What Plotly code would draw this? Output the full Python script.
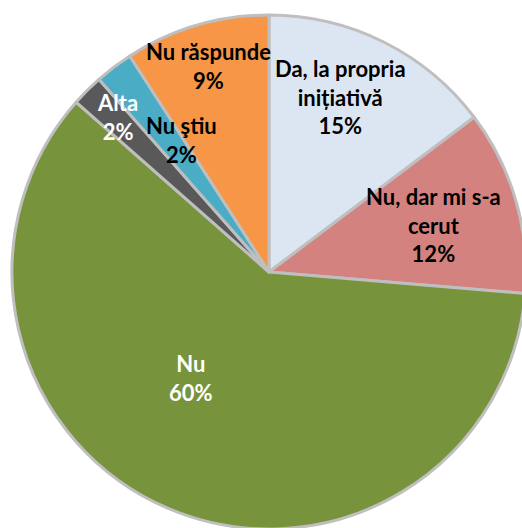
import math
import plotly.graph_objects as go

labels = ["Da, la propria<br>inițiativă", "Nu, dar mi s-a<br>cerut", "Nu", "Alta", "Nu ştiu", "Nu răspunde"]
values = [14.7, 11.6, 60.1, 2.0, 2.4, 9.1]
colors = ["#DCE6F2", "#D4827F", "#77933C", "#595959", "#4BACC6", "#F79646"]
text_colors = ["#000000", "#000000", "#FFFFFF", "#FFFFFF", "#000000", "#000000"]

# label placement (angle clockwise from 12 o'clock in degrees, radius fraction)
label_angle = [22.4, 74.0, 216.3, 315.6, 326.6, 343.5]
label_rfrac = [0.735, 0.665, 0.51, 0.845, 0.615, 0.835]

# figure slightly larger than the window: the pie is cropped on the right and bottom
W, H = 532, 538
cx, cy, R = 269, 272, 257  # pie centre/radius in figure pixels

fig = go.Figure(go.Pie(
    labels=labels,
    values=values,
    sort=False,
    direction="clockwise",
    rotation=0,
    marker=dict(colors=colors, line=dict(color="#BFBFBF", width=3)),
    textinfo="none",
    domain=dict(x=[(cx - R) / W, (cx + R) / W], y=[1 - (cy + R) / H, 1 - (cy - R) / H]),
    hoverinfo="label+percent",
))

total = sum(values)
annotations = []
for lab, v, tc, a, rf in zip(labels, values, text_colors, label_angle, label_rfrac):
    ang = math.radians(a)
    px = cx + rf * R * math.sin(ang)
    py = cy - rf * R * math.cos(ang)
    annotations.append(dict(
        text=f"{lab}<br>{round(v / total * 100)}%",
        x=px / W, y=1 - py / H, xref="paper", yref="paper",
        xanchor="center", yanchor="middle", showarrow=False,
        font=dict(family="Lato", size=22, color=tc, weight="bold"),
    ))

fig.update_layout(
    width=W, height=H,
    margin=dict(l=0, r=0, t=0, b=0),
    showlegend=False,
    paper_bgcolor="white",
    annotations=annotations,
)
fig.write_html(
    "out.html",
    config={"displayModeBar": False},
    post_script="document.body.style.margin='0';document.body.style.overflow='hidden';"
                "document.documentElement.style.overflow='hidden';",
)
